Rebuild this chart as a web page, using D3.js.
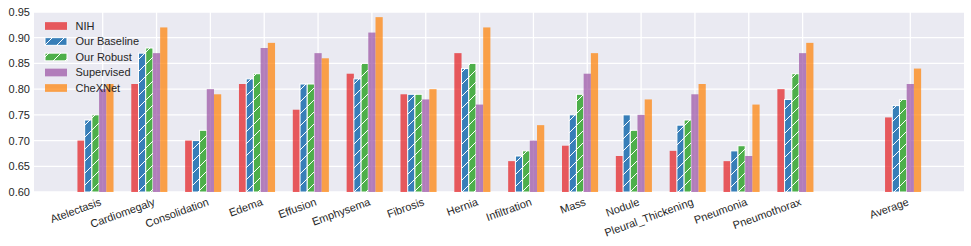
<!DOCTYPE html>
<html>
<head>
<meta charset="utf-8">
<script src="https://cdn.jsdelivr.net/npm/d3@7"></script>
<style>
  html, body { margin: 0; padding: 0; background: #ffffff; }
  svg { display: block; }
  text { font-family: "Liberation Sans", Arial, sans-serif; fill: #262626; }
</style>
</head>
<body>
<svg id="chart" width="971" height="246"></svg>
<script>
// ---- data ----
const categories = ["Atelectasis", "Cardiomegaly", "Consolidation", "Edema", "Effusion",
  "Emphysema", "Fibrosis", "Hernia", "Infiltration", "Mass", "Nodule",
  "Pleural_Thickening", "Pneumonia", "Pneumothorax", "Average"];
const seriesNames = ["NIH", "Our Baseline", "Our Robust", "Supervised", "CheXNet"];
const nih         = [0.70, 0.81, 0.70, 0.81, 0.76, 0.83, 0.79, 0.87, 0.66, 0.69, 0.67, 0.68, 0.66, 0.80, 0.745];
const ourBaseline = [0.74, 0.87, 0.70, 0.82, 0.81, 0.82, 0.79, 0.84, 0.67, 0.75, 0.75, 0.73, 0.68, 0.78, 0.768];
const ourRobust   = [0.75, 0.88, 0.72, 0.83, 0.81, 0.85, 0.79, 0.85, 0.68, 0.79, 0.72, 0.74, 0.69, 0.83, 0.78];
const supervised  = [0.80, 0.87, 0.80, 0.88, 0.87, 0.91, 0.78, 0.77, 0.70, 0.83, 0.75, 0.79, 0.67, 0.87, 0.81];
const chexnet     = [0.81, 0.92, 0.79, 0.89, 0.86, 0.94, 0.80, 0.92, 0.73, 0.87, 0.78, 0.81, 0.77, 0.89, 0.84];
const yTicks = [0.60, 0.65, 0.70, 0.75, 0.80, 0.85, 0.90, 0.95];

const seriesValues = [nih, ourBaseline, ourRobust, supervised, chexnet];
const seriesColors = ["#e41a1c", "#377eb8", "#4daf4a", "#984ea3", "#ff7f00"];
const seriesHatched = [false, true, true, false, false];
const seriesOpacity = [0.7, 1, 1, 0.7, 0.7];

// ---- layout ----
const svg = d3.select("#chart");
const plot = { left: 34, right: 964, top: 12, bottom: 192 };
// position of each category on the x axis (one empty slot before "Average")
const catPos = categories.map((c, i) => i < categories.length - 1 ? i : i + 1);

const x = d3.scaleLinear().domain([0, 15]).range([102.7, 910.3]);
const y = d3.scaleLinear().domain([0.60, 0.95]).range([plot.bottom, plot.top]);
const barW = 0.134;

// hatch patterns
const defs = svg.append("defs");
seriesColors.forEach((c, i) => {
  if (!seriesHatched[i]) return;
  const p = defs.append("pattern").attr("id", "hatch" + i)
    .attr("patternUnits", "userSpaceOnUse").attr("width", 12).attr("height", 12)
    .attr("x", 0).attr("y", 6);
  p.append("rect").attr("width", 12).attr("height", 12).attr("fill", c);
  p.append("path").attr("d", "M-3,3 L3,-3 M0,12 L12,0 M9,15 L15,9")
    .attr("stroke", "#ffffff").attr("stroke-width", 1).attr("fill", "none");
});
defs.append("clipPath").attr("id", "plotclip").append("rect")
  .attr("x", plot.left).attr("y", plot.top)
  .attr("width", plot.right - plot.left).attr("height", plot.bottom - plot.top);

// background
svg.append("rect").attr("x", plot.left).attr("y", plot.top)
  .attr("width", plot.right - plot.left).attr("height", plot.bottom - plot.top)
  .attr("fill", "#eaeaf2");

// grid
const grid = svg.append("g");
grid.selectAll("line.h").data(yTicks).join("line")
  .attr("x1", plot.left).attr("x2", plot.right)
  .attr("y1", d => y(d)).attr("y2", d => y(d))
  .attr("stroke", "#ffffff").attr("stroke-width", 1.3);
grid.selectAll("line.v").data(catPos).join("line")
  .attr("x1", d => x(d)).attr("x2", d => x(d))
  .attr("y1", plot.top).attr("y2", plot.bottom)
  .attr("stroke", "#ffffff").attr("stroke-width", 1.3);

// bars
const barsG = svg.append("g").attr("clip-path", "url(#plotclip)");
seriesValues.forEach((vals, si) => {
  barsG.append("g").selectAll("rect").data(vals).join("rect")
    .attr("x", (d, i) => x(catPos[i] + (si - 3.5) * barW))
    .attr("width", x(barW) - x(0))
    .attr("y", d => y(d))
    .attr("height", d => y(0.60) - y(d))
    .attr("fill", seriesHatched[si] ? "url(#hatch" + si + ")" : seriesColors[si])
    .attr("fill-opacity", seriesOpacity[si])
    .attr("stroke", seriesHatched[si] ? "#ffffff" : "none")
    .attr("stroke-width", 1);
});

// y axis labels
const yAxis = d3.axisLeft(y).tickValues(yTicks).tickFormat(d3.format(".2f")).tickSize(0).tickPadding(4);
const yg = svg.append("g").attr("transform", `translate(${plot.left},0)`).call(yAxis);
yg.select(".domain").remove();
yg.selectAll("text").style("font-size", "11px").attr("fill", "#262626")
  .style("font-family", '"Liberation Sans", Arial, sans-serif');

// x axis labels (rotated 20deg, right/top aligned like matplotlib)
const fs = 11, asc = 0.905 * fs, desc = 0.212 * fs;
const ang = 20 * Math.PI / 180;
const topY = plot.bottom + 3.5;
const xg = svg.append("g");
categories.forEach((c, i) => {
  const tx = x(catPos[i]) - Math.sin(ang) * desc;
  const ty = topY + Math.cos(ang) * asc;
  xg.append("text")
    .attr("transform", `translate(${tx},${ty}) rotate(-20)`)
    .attr("text-anchor", "end")
    .style("font-size", fs + "px")
    .text(c);
});

// legend
const lg = svg.append("g");
seriesNames.forEach((name, i) => {
  const cy = 26 + i * 15.5;
  lg.append("rect").attr("x", 45).attr("y", cy - 3.85).attr("width", 22).attr("height", 7.7)
    .attr("fill", seriesHatched[i] ? "url(#hatch" + i + ")" : seriesColors[i])
    .attr("fill-opacity", seriesOpacity[i])
    .attr("stroke", seriesHatched[i] ? "#ffffff" : "none").attr("stroke-width", 1);
  lg.append("text").attr("x", 75.5).attr("y", cy).attr("dy", "0.35em")
    .style("font-size", "11px").text(name);
});
</script>
</body>
</html>
